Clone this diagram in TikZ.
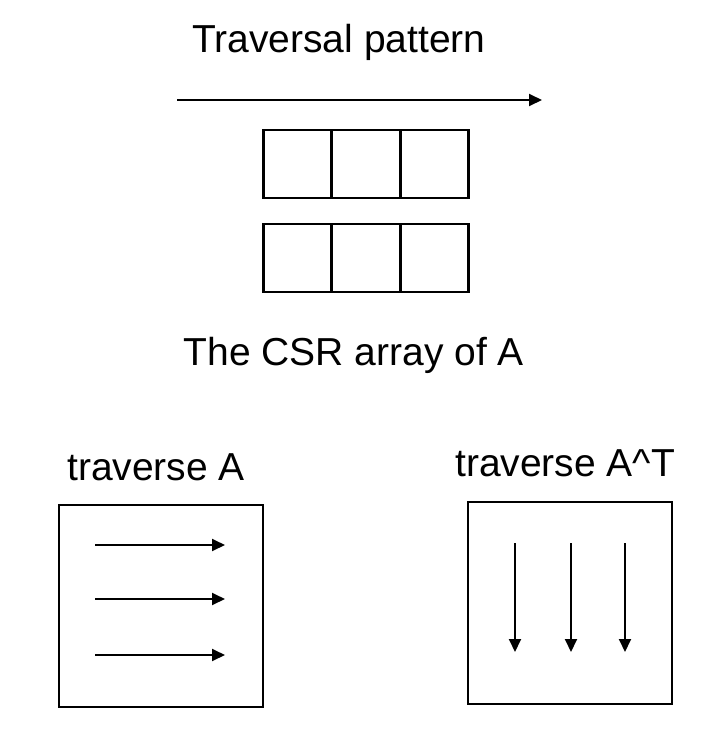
\documentclass[tikz,border=0pt]{standalone}
\usepackage{fontspec}
\setmainfont{Liberation Sans}
\usetikzlibrary{arrows.meta}
\begin{document}
\begin{tikzpicture}[x=1pt,y=-1pt,
  lbl/.style={font=\fontsize{39}{44}\selectfont, inner sep=0pt},
  cell/.style={draw, line width=2.3pt, minimum width=68pt, minimum height=68pt, inner sep=0pt, outer sep=0pt},
  panel/.style={draw, line width=2.4pt, inner sep=0pt, outer sep=0pt},
  arr/.style={line width=1.9pt, -{Triangle[length=13pt,width=12pt]}}]
\useasboundingbox (0,0) rectangle (722,734);
% title
\node[lbl, anchor=base west] (title) at (192,52) {Traversal pattern};
\coordinate (ts) at (177,100);
\coordinate (te) at (542,100);
\draw[arr] (ts) -- (te);
% CSR array cells
\node[cell] (a1) at (297.5,164) {};
\node[cell] (a2) at (366,164) {};
\node[cell] (a3) at (434.5,164) {};
\node[cell] (b1) at (297.5,258) {};
\node[cell] (b2) at (366,258) {};
\node[cell] (b3) at (434.5,258) {};
\node[lbl, anchor=base east] (csr) at (524,365) {The CSR array of A};
% traverse A
\node[lbl, anchor=base west] (tA) at (67,480) {traverse A};
\node[panel, minimum width=204pt, minimum height=202pt] (pA) at (161,606) {};
\coordinate (h1s) at (95,545); \coordinate (h1e) at (225,545);
\coordinate (h2s) at (95,599); \coordinate (h2e) at (225,599);
\coordinate (h3s) at (95,655); \coordinate (h3e) at (225,655);
\draw[arr] (h1s) -- (h1e);
\draw[arr] (h2s) -- (h2e);
\draw[arr] (h3s) -- (h3e);
% traverse A^T
\node[lbl, anchor=base west] (tAT) at (455,476) {traverse A\^{}T};
\node[panel, minimum width=204pt, minimum height=202pt] (pAT) at (570,603) {};
\coordinate (v1s) at (515,543); \coordinate (v1e) at (515,652);
\coordinate (v2s) at (571,543); \coordinate (v2e) at (571,652);
\coordinate (v3s) at (625,543); \coordinate (v3e) at (625,652);
\draw[arr] (v1s) -- (v1e);
\draw[arr] (v2s) -- (v2e);
\draw[arr] (v3s) -- (v3e);
\end{tikzpicture}
\end{document}
